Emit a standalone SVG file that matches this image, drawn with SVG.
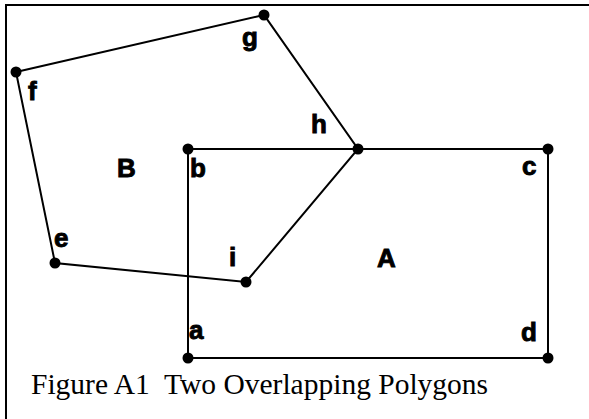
<svg xmlns="http://www.w3.org/2000/svg" width="589" height="419" viewBox="0 0 589 419">
<style>
.edge{stroke:#000;stroke-width:2;fill:none}
.frame{stroke:#000;stroke-width:2;fill:none}
.dot{fill:#000}
.lbl{font-family:"Liberation Sans",Arial,sans-serif;font-weight:bold;font-size:26px;fill:#000;stroke:#000;stroke-width:0.9}
.cap{font-family:"Liberation Serif","Times New Roman",serif;font-size:29.5px;fill:#000;white-space:pre}
</style>
<rect width="589" height="419" fill="#fff"/>
<path class="frame" d="M6,419 V5 H589"/>
<g id="connectors">
<polygon class="edge" points="188,149 548,149 548,358 188,358"/>
<polygon class="edge" points="16,72 264,15 358,149 246,282 55,263"/>
</g>
<g id="node-a"><circle class="dot" cx="188" cy="358" r="5.5"/><text class="lbl" x="189" y="339">a</text></g>
<g id="node-b"><circle class="dot" cx="188" cy="149" r="5.5"/><text class="lbl" x="190" y="177">b</text></g>
<g id="node-c"><circle class="dot" cx="548" cy="149" r="5.5"/><text class="lbl" x="522" y="175">c</text></g>
<g id="node-d"><circle class="dot" cx="548" cy="358" r="5.5"/><text class="lbl" x="521" y="341">d</text></g>
<g id="node-e"><circle class="dot" cx="55" cy="263" r="5.5"/><text class="lbl" x="54" y="247">e</text></g>
<g id="node-f"><circle class="dot" cx="16" cy="72" r="5.5"/><text class="lbl" x="28" y="100">f</text></g>
<g id="node-g"><circle class="dot" cx="264" cy="15" r="5.5"/><text class="lbl" x="242" y="46">g</text></g>
<g id="node-h"><circle class="dot" cx="358" cy="149" r="5.5"/><text class="lbl" x="311" y="133">h</text></g>
<g id="node-i"><circle class="dot" cx="246" cy="282" r="5.5"/><text class="lbl" x="229" y="266">i</text></g>
<g id="label-A"><text class="lbl" x="377" y="267">A</text></g>
<g id="label-B"><text class="lbl" x="117" y="177">B</text></g>
<text class="cap" x="31" y="394">Figure A1  Two Overlapping Polygons</text>
</svg>
